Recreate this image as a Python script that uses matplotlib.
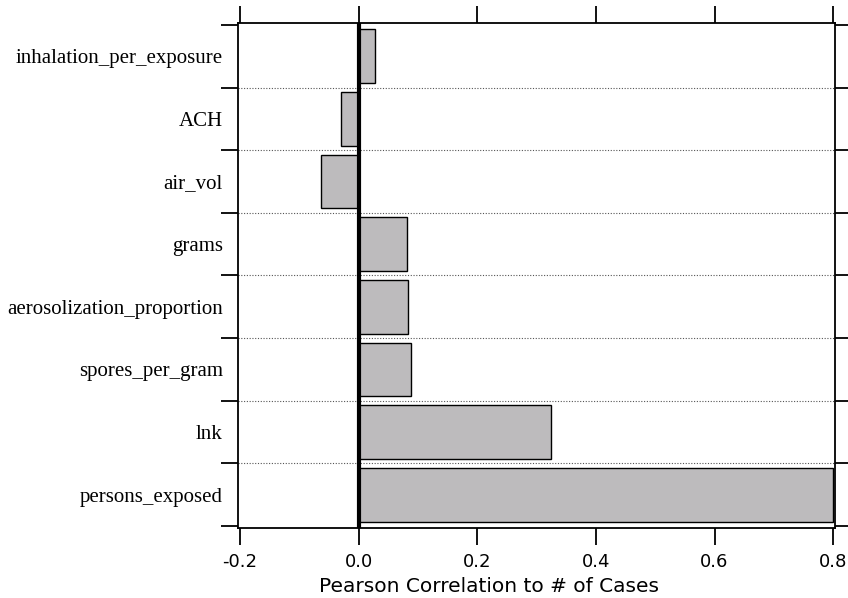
import numpy as np
import matplotlib.pyplot as plt

names = ['inhalation_per_exposure', 'ACH', 'air_vol', 'grams',
         'aerosolization_proportion', 'spores_per_gram', 'lnk', 'persons_exposed']
corr = [0.027, -0.030, -0.064, 0.081, 0.084, 0.089, 0.324, 0.80]
xticks = [-0.2, 0.0, 0.2, 0.4, 0.6, 0.8]

fig = plt.figure(figsize=(8.48, 5.98), dpi=100)
ax = fig.add_axes([0.2807, 0.1171, 0.7040, 0.8444])

y = np.arange(len(names))
ax.barh(y, corr, height=0.86, color='#bdbbbd', edgecolor='black', linewidth=1.0, zorder=2)
ax.axvline(0, color='black', linewidth=3, zorder=3)

# dotted separators between categories
for b in np.arange(0.5, len(names) - 0.5, 1.0):
    ax.axhline(b, color='#555555', linestyle=(0, (1, 1.5)), linewidth=0.8, zorder=1)

ax.set_xlim(-0.203, 0.803)
ax.set_ylim(len(names) - 0.47, -0.53)

ax.set_xticks(xticks)
ax.set_xticklabels(['%.1f' % v for v in xticks], fontsize=13)
ax.tick_params(axis='x', which='major', direction='out', length=12, width=1.3,
               top=True, bottom=True, pad=6)

ax.set_yticks(np.arange(-0.5, len(names), 1.0))
ax.set_yticklabels([])
ax.set_yticks(y, minor=True)
ax.set_yticklabels(names, minor=True, fontsize=15, family='Liberation Serif')
ax.tick_params(axis='y', which='major', direction='out', length=12, width=1.3,
               left=True, right=True)
ax.tick_params(axis='y', which='minor', length=0, pad=11)

for s in ax.spines.values():
    s.set_linewidth(1.3)

ax.set_xlabel('Pearson Correlation to # of Cases', fontsize=14.5, va='center')
ax.xaxis.set_label_coords(0.42, -0.115)

fig.savefig('out.png', dpi=100)
